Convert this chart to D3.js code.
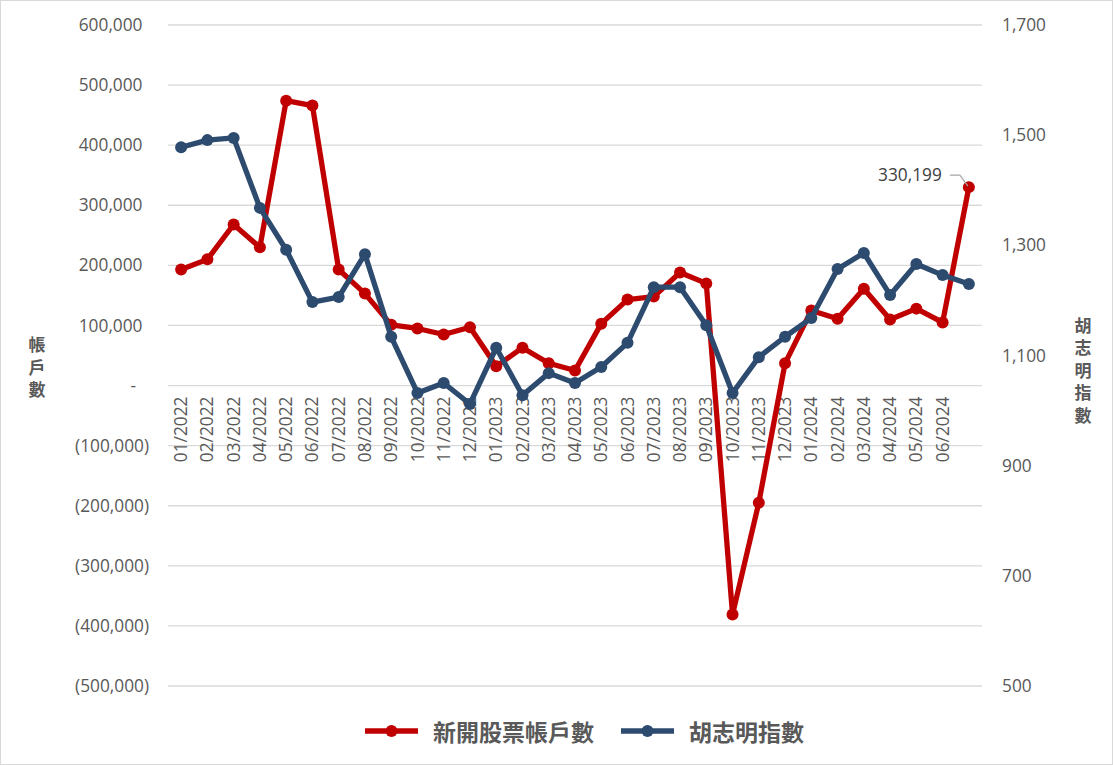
<!DOCTYPE html>
<html>
<head>
<meta charset="utf-8">
<script src="https://cdn.jsdelivr.net/npm/d3@7"></script>
<style>
  html, body { margin: 0; padding: 0; background: #fff; }
  svg { display: block; }
</style>
</head>
<body>
<svg id="chart" width="1113" height="765"></svg>
<script>
// ---- Data ----
const categories = ["01/2022","02/2022","03/2022","04/2022","05/2022","06/2022","07/2022","08/2022","09/2022","10/2022","11/2022","12/2022",
  "01/2023","02/2023","03/2023","04/2023","05/2023","06/2023","07/2023","08/2023","09/2023","10/2023","11/2023","12/2023",
  "01/2024","02/2024","03/2024","04/2024","05/2024","06/2024","07/2024"];
const tickLabels = ["01/2022","02/2022","03/2022","04/2022","05/2022","06/2022","07/2022","08/2022","09/2022","10/2022","11/2022","12/2022",
  "01/2023","02/2023","03/2023","04/2023","05/2023","06/2023","07/2023","08/2023","09/2023","10/2023","11/2023","12/2023",
  "01/2024","02/2024","03/2024","04/2024","05/2024","06/2024",""];
const newAccounts = [193000,210000,268000,230000,474000,466000,193000,153000,101000,95000,85000,97000,
  32000,63000,37000,25000,103000,143000,148000,188000,170000,-381000,-195000,37000,
  125000,111000,161000,110000,128000,105000,330199];
const vnIndex = [1478,1491,1495,1368,1292,1197,1206,1284,1134,1032,1050,1012,
  1114,1028,1068,1050,1079,1123,1224,1224,1155,1032,1097,1134,
  1168,1257,1286,1210,1266,1246,1230];
const leftTicks = [-500000,-400000,-300000,-200000,-100000,0,100000,200000,300000,400000,500000,600000];
const rightTicks = [500,700,900,1100,1300,1500,1700];
const seriesNames = ["新開股票帳戶數","胡志明指數"];
const leftTitle = "帳戶數";
const rightTitle = "胡志明指數";

// ---- Layout ----
const W = 1113, H = 765;
const plot = {left: 168, right: 982, top: 25, bottom: 686};
const RED = "#C00000", BLUE = "#2D4A6F", TXT = "#595959", GRID = "#D9D9D9";
const NUMFONT = "'Open Sans', 'Liberation Sans', sans-serif";
const CJKFONT = "'Noto Sans CJK TC', 'Noto Sans CJK SC', sans-serif";

const svg = d3.select("#chart");
svg.append("rect").attr("x",0.5).attr("y",0.5).attr("width",W-1).attr("height",H-1)
  .attr("fill","#fff").attr("stroke","#D9D9D9");

const x = d3.scaleBand().domain(categories).range([plot.left, plot.right]);
const xc = c => x(c) + x.bandwidth()/2;
const yL = d3.scaleLinear().domain([-500000, 600000]).range([plot.bottom, plot.top]);
const yR = d3.scaleLinear().domain([500, 1700]).range([plot.bottom, plot.top]);

// gridlines
svg.append("g").selectAll("line").data(leftTicks).join("line")
  .attr("x1", plot.left).attr("x2", plot.right)
  .attr("y1", d => yL(d)).attr("y2", d => yL(d))
  .attr("stroke", GRID).attr("stroke-width", 1.3);

// left axis labels (accounting style)
const fmt = d3.format(",");
const leftAxis = d3.axisLeft(yL).tickValues(leftTicks).tickSize(0).tickPadding(0)
  .tickFormat(d => d === 0 ? "-" : d < 0 ? "(" + fmt(-d) + ")" : fmt(d));
const gL = svg.append("g").attr("transform", `translate(149,0)`).call(leftAxis);
gL.select(".domain").remove();
gL.selectAll("text").attr("font-family", NUMFONT).attr("font-size", 17.3).attr("fill", TXT)
  .attr("dx", d => d === 0 ? -13 : d > 0 ? -6.5 : 0);

// right axis labels
const rightAxis = d3.axisRight(yR).tickValues(rightTicks).tickSize(0).tickPadding(0)
  .tickFormat(d3.format(","));
const gR = svg.append("g").attr("transform", `translate(1002,0)`).call(rightAxis);
gR.select(".domain").remove();
gR.selectAll("text").attr("font-family", NUMFONT).attr("font-size", 17.3).attr("fill", TXT);

// x axis labels (rotated)
const xAxis = d3.axisBottom(x).tickSize(0).tickPadding(0).tickFormat((d,i) => tickLabels[i]);
const gX = svg.append("g").attr("transform", `translate(0,${yL(0)})`).call(xAxis);
gX.select(".domain").remove();
gX.selectAll("text")
  .attr("font-family", NUMFONT).attr("font-size", 17.3).attr("fill", TXT)
  .attr("text-anchor", "end").attr("y", 0).attr("dy", "0.35em")
  .attr("transform", "translate(0,11) rotate(-90)");

// axis titles (vertical writing mode, single text element)
function stacked(text, cx, cy) {
  svg.append("text")
    .attr("x", cx).attr("y", cy)
    .attr("text-anchor","middle")
    .style("writing-mode","vertical-rl").style("text-orientation","upright")
    .style("letter-spacing","5.5px")
    .attr("font-family", CJKFONT).attr("font-weight","bold").attr("font-size", 17)
    .attr("fill", TXT).text(text);
}
stacked(leftTitle, 37, 370);
stacked(rightTitle, 1083, 373);

// lines
const lineL = d3.line().x((d,i) => xc(categories[i])).y(d => yL(d));
const lineR = d3.line().x((d,i) => xc(categories[i])).y(d => yR(d));

svg.append("path").datum(newAccounts).attr("d", lineL)
  .attr("fill","none").attr("stroke", RED).attr("stroke-width", 5.3).attr("stroke-linejoin","round");
svg.append("g").selectAll("circle").data(newAccounts).join("circle")
  .attr("cx", (d,i) => xc(categories[i])).attr("cy", d => yL(d)).attr("r", 6).attr("fill", RED);

svg.append("path").datum(vnIndex).attr("d", lineR)
  .attr("fill","none").attr("stroke", BLUE).attr("stroke-width", 5.3).attr("stroke-linejoin","round");
svg.append("g").selectAll("circle").data(vnIndex).join("circle")
  .attr("cx", (d,i) => xc(categories[i])).attr("cy", d => yR(d)).attr("r", 6).attr("fill", BLUE);

// data label for last red point
const lastI = newAccounts.length - 1;
const lx = xc(categories[lastI]), ly = yL(newAccounts[lastI]);
svg.append("polyline")
  .attr("points", `${lx-19},${ly-12} ${lx-9},${ly-12} ${lx-1},${ly-1}`)
  .attr("fill","none").attr("stroke","#A6A6A6").attr("stroke-width",1.2);
svg.append("text").attr("x", lx-27).attr("y", ly-12).attr("dy","0.35em")
  .attr("text-anchor","end").attr("font-family", NUMFONT).attr("font-size", 17.3)
  .attr("fill", "#404040").text(fmt(newAccounts[lastI]));

// legend
const legend = svg.append("g");
const items = [{name: seriesNames[0], color: RED, x0: 365}, {name: seriesNames[1], color: BLUE, x0: 621}];
const ly0 = 731;
items.forEach(it => {
  legend.append("line").attr("x1", it.x0).attr("x2", it.x0 + 53).attr("y1", ly0).attr("y2", ly0)
    .attr("stroke", it.color).attr("stroke-width", 5.3);
  legend.append("circle").attr("cx", it.x0 + 26.5).attr("cy", ly0).attr("r", 6).attr("fill", it.color);
  legend.append("text").attr("x", it.x0 + 68).attr("y", ly0).attr("dominant-baseline","central")
    .attr("font-family", CJKFONT).attr("font-weight","bold").attr("font-size", 23)
    .attr("fill", TXT).text(it.name);
});
</script>
</body>
</html>
